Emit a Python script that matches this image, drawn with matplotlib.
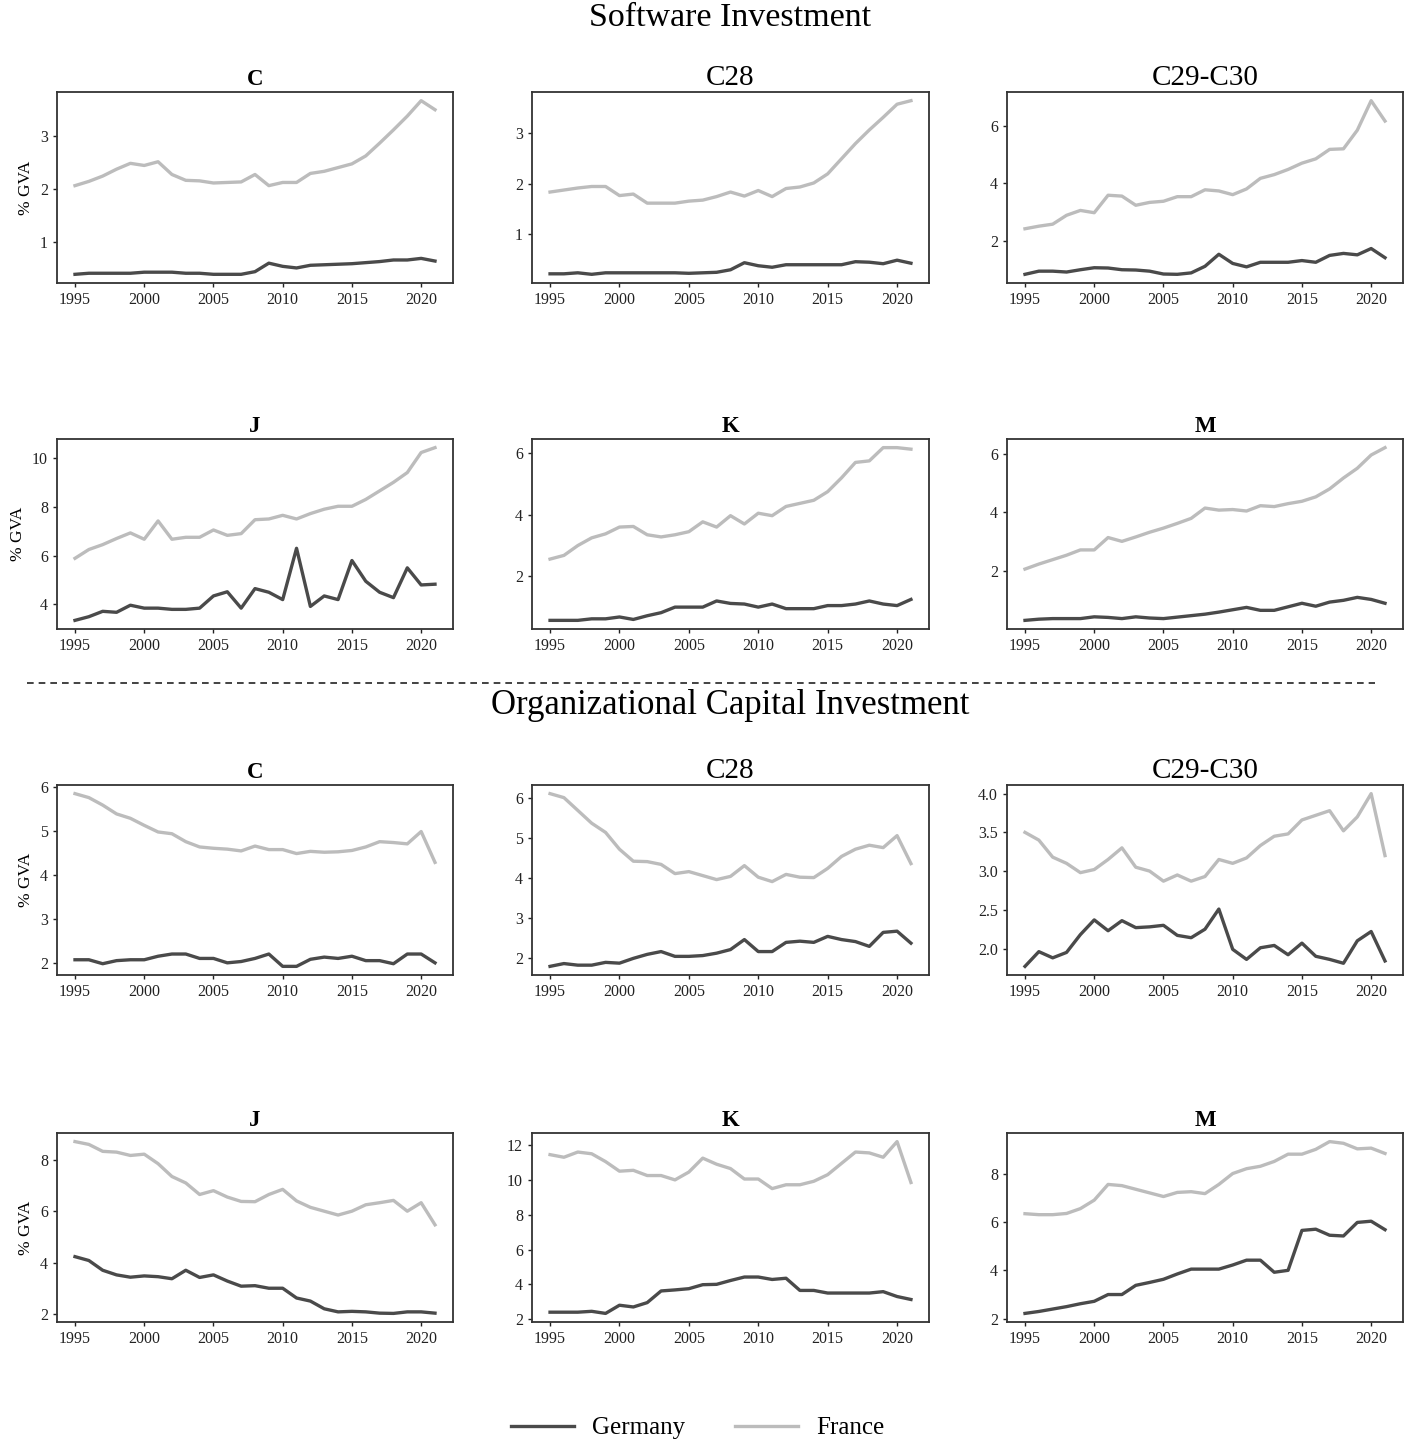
import numpy as np
import matplotlib
matplotlib.use("Agg")
import matplotlib.pyplot as plt
from matplotlib.lines import Line2D
from matplotlib.ticker import FixedLocator, FormatStrFormatter

plt.rcParams['font.family'] = ['Liberation Serif', 'DejaVu Serif']

years = np.arange(1995, 2022)

# Software investment, % GVA
sw_titles = ["C", "C28", "C29-C30", "J", "K", "M"]
sw_germany = [
    [0.40, 0.42, 0.42, 0.42, 0.42, 0.44, 0.44, 0.44, 0.42, 0.42, 0.40, 0.40, 0.40, 0.45, 0.61,
     0.55, 0.52, 0.57, 0.58, 0.59, 0.60, 0.62, 0.64, 0.67, 0.67, 0.70, 0.65],
    [0.22, 0.22, 0.24, 0.21, 0.24, 0.24, 0.24, 0.24, 0.24, 0.24, 0.23, 0.24, 0.25, 0.30, 0.44,
     0.38, 0.35, 0.40, 0.40, 0.40, 0.40, 0.40, 0.46, 0.45, 0.42, 0.49, 0.43],
    [0.82, 0.93, 0.93, 0.90, 0.98, 1.05, 1.04, 0.98, 0.97, 0.93, 0.83, 0.82, 0.87, 1.10, 1.52,
     1.20, 1.08, 1.24, 1.24, 1.24, 1.30, 1.24, 1.48, 1.55, 1.50, 1.72, 1.40],
    [3.35, 3.50, 3.72, 3.68, 3.97, 3.85, 3.85, 3.80, 3.80, 3.85, 4.35, 4.52, 3.85, 4.65, 4.50,
     4.20, 6.30, 3.92, 4.35, 4.20, 5.80, 4.95, 4.50, 4.28, 5.50, 4.80, 4.83],
    [0.57, 0.57, 0.57, 0.62, 0.62, 0.68, 0.60, 0.72, 0.82, 1.00, 1.00, 1.00, 1.20, 1.12, 1.10,
     1.00, 1.10, 0.95, 0.95, 0.95, 1.05, 1.05, 1.10, 1.20, 1.10, 1.05, 1.25],
    [0.34, 0.38, 0.40, 0.40, 0.40, 0.46, 0.44, 0.40, 0.46, 0.42, 0.40, 0.45, 0.50, 0.55, 0.62,
     0.70, 0.78, 0.68, 0.68, 0.80, 0.92, 0.82, 0.96, 1.02, 1.12, 1.05, 0.92],
]
sw_france = [
    [2.07, 2.15, 2.25, 2.38, 2.49, 2.45, 2.52, 2.28, 2.17, 2.16, 2.12, 2.13, 2.14, 2.28, 2.07,
     2.13, 2.13, 2.30, 2.34, 2.41, 2.48, 2.63, 2.87, 3.12, 3.38, 3.67, 3.50],
    [1.84, 1.88, 1.92, 1.95, 1.95, 1.77, 1.80, 1.62, 1.62, 1.62, 1.66, 1.68, 1.75, 1.84, 1.76,
     1.87, 1.75, 1.91, 1.94, 2.02, 2.20, 2.50, 2.80, 3.07, 3.32, 3.58, 3.65],
    [2.41, 2.50, 2.57, 2.88, 3.05, 2.97, 3.58, 3.55, 3.23, 3.33, 3.37, 3.53, 3.53, 3.77, 3.73,
     3.60, 3.80, 4.17, 4.30, 4.48, 4.70, 4.85, 5.18, 5.20, 5.85, 6.88, 6.17],
    [5.89, 6.25, 6.45, 6.70, 6.93, 6.67, 7.42, 6.67, 6.75, 6.75, 7.05, 6.83, 6.90, 7.47, 7.50,
     7.65, 7.50, 7.72, 7.90, 8.02, 8.02, 8.30, 8.65, 9.00, 9.40, 10.22, 10.42],
    [2.56, 2.68, 3.00, 3.25, 3.38, 3.60, 3.62, 3.35, 3.28, 3.35, 3.45, 3.77, 3.60, 3.97, 3.70,
     4.05, 3.97, 4.27, 4.37, 4.47, 4.75, 5.20, 5.70, 5.75, 6.18, 6.18, 6.13],
    [2.08, 2.25, 2.40, 2.55, 2.73, 2.73, 3.15, 3.02, 3.17, 3.33, 3.47, 3.63, 3.80, 4.15, 4.08,
     4.10, 4.05, 4.23, 4.20, 4.30, 4.38, 4.53, 4.80, 5.17, 5.50, 5.95, 6.20],
]
sw_yticks = [[1, 2, 3], [1, 2, 3], [2, 4, 6], [4, 6, 8, 10], [2, 4, 6], [2, 4, 6]]

# Organizational capital investment, % GVA
oc_titles = ["C", "C28", "C29-C30", "J", "K", "M"]
oc_germany = [
    [2.07, 2.07, 1.98, 2.05, 2.07, 2.07, 2.15, 2.20, 2.20, 2.10, 2.10, 2.00, 2.03, 2.10, 2.20,
     1.92, 1.92, 2.08, 2.13, 2.10, 2.15, 2.05, 2.05, 1.98, 2.20, 2.20, 2.00],
    [1.80, 1.87, 1.83, 1.83, 1.90, 1.88, 2.00, 2.10, 2.17, 2.05, 2.05, 2.07, 2.13, 2.22, 2.47,
     2.17, 2.17, 2.40, 2.43, 2.40, 2.55, 2.47, 2.42, 2.30, 2.65, 2.68, 2.38],
    [1.77, 1.96, 1.88, 1.95, 2.18, 2.37, 2.23, 2.36, 2.27, 2.28, 2.30, 2.17, 2.14, 2.25, 2.51,
     1.99, 1.86, 2.01, 2.04, 1.92, 2.07, 1.90, 1.86, 1.81, 2.10, 2.22, 1.84],
    [4.23, 4.08, 3.70, 3.52, 3.43, 3.48, 3.45, 3.37, 3.70, 3.42, 3.52, 3.28, 3.08, 3.10, 3.00,
     3.00, 2.62, 2.50, 2.20, 2.08, 2.10, 2.08, 2.03, 2.02, 2.08, 2.08, 2.03],
    [2.40, 2.40, 2.40, 2.45, 2.33, 2.80, 2.70, 2.95, 3.62, 3.68, 3.75, 3.98, 4.00, 4.22, 4.42,
     4.42, 4.28, 4.35, 3.65, 3.65, 3.50, 3.50, 3.50, 3.50, 3.58, 3.30, 3.13],
    [2.22, 2.30, 2.40, 2.50, 2.62, 2.72, 3.00, 3.00, 3.38, 3.50, 3.63, 3.85, 4.05, 4.05, 4.05,
     4.22, 4.42, 4.42, 3.92, 4.00, 5.65, 5.70, 5.45, 5.42, 5.98, 6.03, 5.68],
]
oc_france = [
    [5.84, 5.75, 5.58, 5.38, 5.28, 5.12, 4.97, 4.93, 4.75, 4.63, 4.60, 4.58, 4.54, 4.65, 4.57,
     4.57, 4.48, 4.53, 4.51, 4.52, 4.55, 4.63, 4.75, 4.73, 4.70, 4.98, 4.28],
    [6.12, 6.02, 5.70, 5.38, 5.15, 4.73, 4.43, 4.42, 4.35, 4.12, 4.17, 4.07, 3.97, 4.05, 4.32,
     4.03, 3.92, 4.10, 4.03, 4.02, 4.25, 4.55, 4.73, 4.83, 4.77, 5.07, 4.37],
    [3.50, 3.40, 3.18, 3.10, 2.98, 3.02, 3.15, 3.30, 3.05, 3.00, 2.87, 2.95, 2.87, 2.93, 3.15,
     3.10, 3.17, 3.33, 3.45, 3.48, 3.66, 3.72, 3.78, 3.52, 3.70, 4.00, 3.20],
    [8.71, 8.60, 8.33, 8.30, 8.17, 8.22, 7.85, 7.35, 7.10, 6.65, 6.80, 6.55, 6.38, 6.37, 6.65,
     6.85, 6.40, 6.15, 6.00, 5.85, 6.00, 6.25, 6.33, 6.42, 6.00, 6.33, 5.47],
    [11.45, 11.30, 11.60, 11.50, 11.05, 10.50, 10.55, 10.25, 10.25, 10.00, 10.45, 11.25, 10.90,
     10.65, 10.05, 10.05, 9.50, 9.72, 9.72, 9.92, 10.30, 10.95, 11.60, 11.55, 11.30, 12.20, 9.85],
    [6.34, 6.30, 6.30, 6.35, 6.55, 6.90, 7.55, 7.50, 7.35, 7.20, 7.05, 7.22, 7.25, 7.17, 7.55,
     8.00, 8.20, 8.30, 8.50, 8.80, 8.80, 9.00, 9.32, 9.25, 9.02, 9.05, 8.83],
]
oc_yticks = [[2, 3, 4, 5, 6], [2, 3, 4, 5, 6], [2.0, 2.5, 3.0, 3.5, 4.0],
             [2, 4, 6, 8], [2, 4, 6, 8, 10, 12], [2, 4, 6, 8]]

GER_COLOR = "#4a4a4a"
FRA_COLOR = "#bcbcbc"

W, H = 1406, 1443
fig = plt.figure(figsize=(W / 100, H / 100), dpi=100)

col_x = [(57, 453), (532, 929), (1007, 1403)]
row_y = [(92, 283), (439, 629), (785, 975), (1133, 1322)]


def px_axes(x0, x1, y0, y1):
    return fig.add_axes([x0 / W, 1 - y1 / H, (x1 - x0) / W, (y1 - y0) / H])


def draw_panel(ax, title, ger, fra, yticks, first_col):
    ax.plot(years, fra, color=FRA_COLOR, lw=2.4, solid_joinstyle='round')
    ax.plot(years, ger, color=GER_COLOR, lw=2.4, solid_joinstyle='round')
    ax.set_xticks([1995, 2000, 2005, 2010, 2015, 2020])
    ax.yaxis.set_major_locator(FixedLocator(yticks))
    if isinstance(yticks[0], float):
        ax.yaxis.set_major_formatter(FormatStrFormatter('%.1f'))
    ax.tick_params(labelsize=11.5, length=3, width=1, colors='#222222')
    for sp in ax.spines.values():
        sp.set_linewidth(1.3)
        sp.set_color('#333333')
    big = len(title) > 1
    ax.set_title(title, fontsize=21 if big else 16.5,
                 fontweight='normal' if big else 'bold', pad=5)
    if first_col:
        ax.set_ylabel('% GVA', fontsize=12.5)


sections = [
    (sw_titles, sw_germany, sw_france, sw_yticks, row_y[0:2]),
    (oc_titles, oc_germany, oc_france, oc_yticks, row_y[2:4]),
]
for titles, ger, fra, yt, rows in sections:
    for i in range(6):
        r, c = divmod(i, 3)
        ax = px_axes(col_x[c][0], col_x[c][1], rows[r][0], rows[r][1])
        draw_panel(ax, titles[i], ger[i], fra[i], yt[i], c == 0)

fig.text(730 / W, 1 - 18 / H, 'Software Investment', ha='center', va='center', fontsize=24.5)
fig.text(730 / W, 1 - 706 / H, 'Organizational Capital Investment', ha='center',
         va='center', fontsize=25)
fig.add_artist(Line2D([27 / W, 1375 / W], [1 - 683 / H, 1 - 683 / H], color='#222222',
                      lw=1.2, ls=(0, (4, 3))))

handles = [Line2D([], [], color=GER_COLOR, lw=2.4), Line2D([], [], color=FRA_COLOR, lw=2.4)]
fig.legend(handles, ['Germany', 'France'], loc='center', ncol=2,
           bbox_to_anchor=(698 / W, 1 - 1428 / H), frameon=False, fontsize=18,
           handlelength=2.5, columnspacing=2.0, handletextpad=0.75)

fig.savefig('out.png', dpi=100)
